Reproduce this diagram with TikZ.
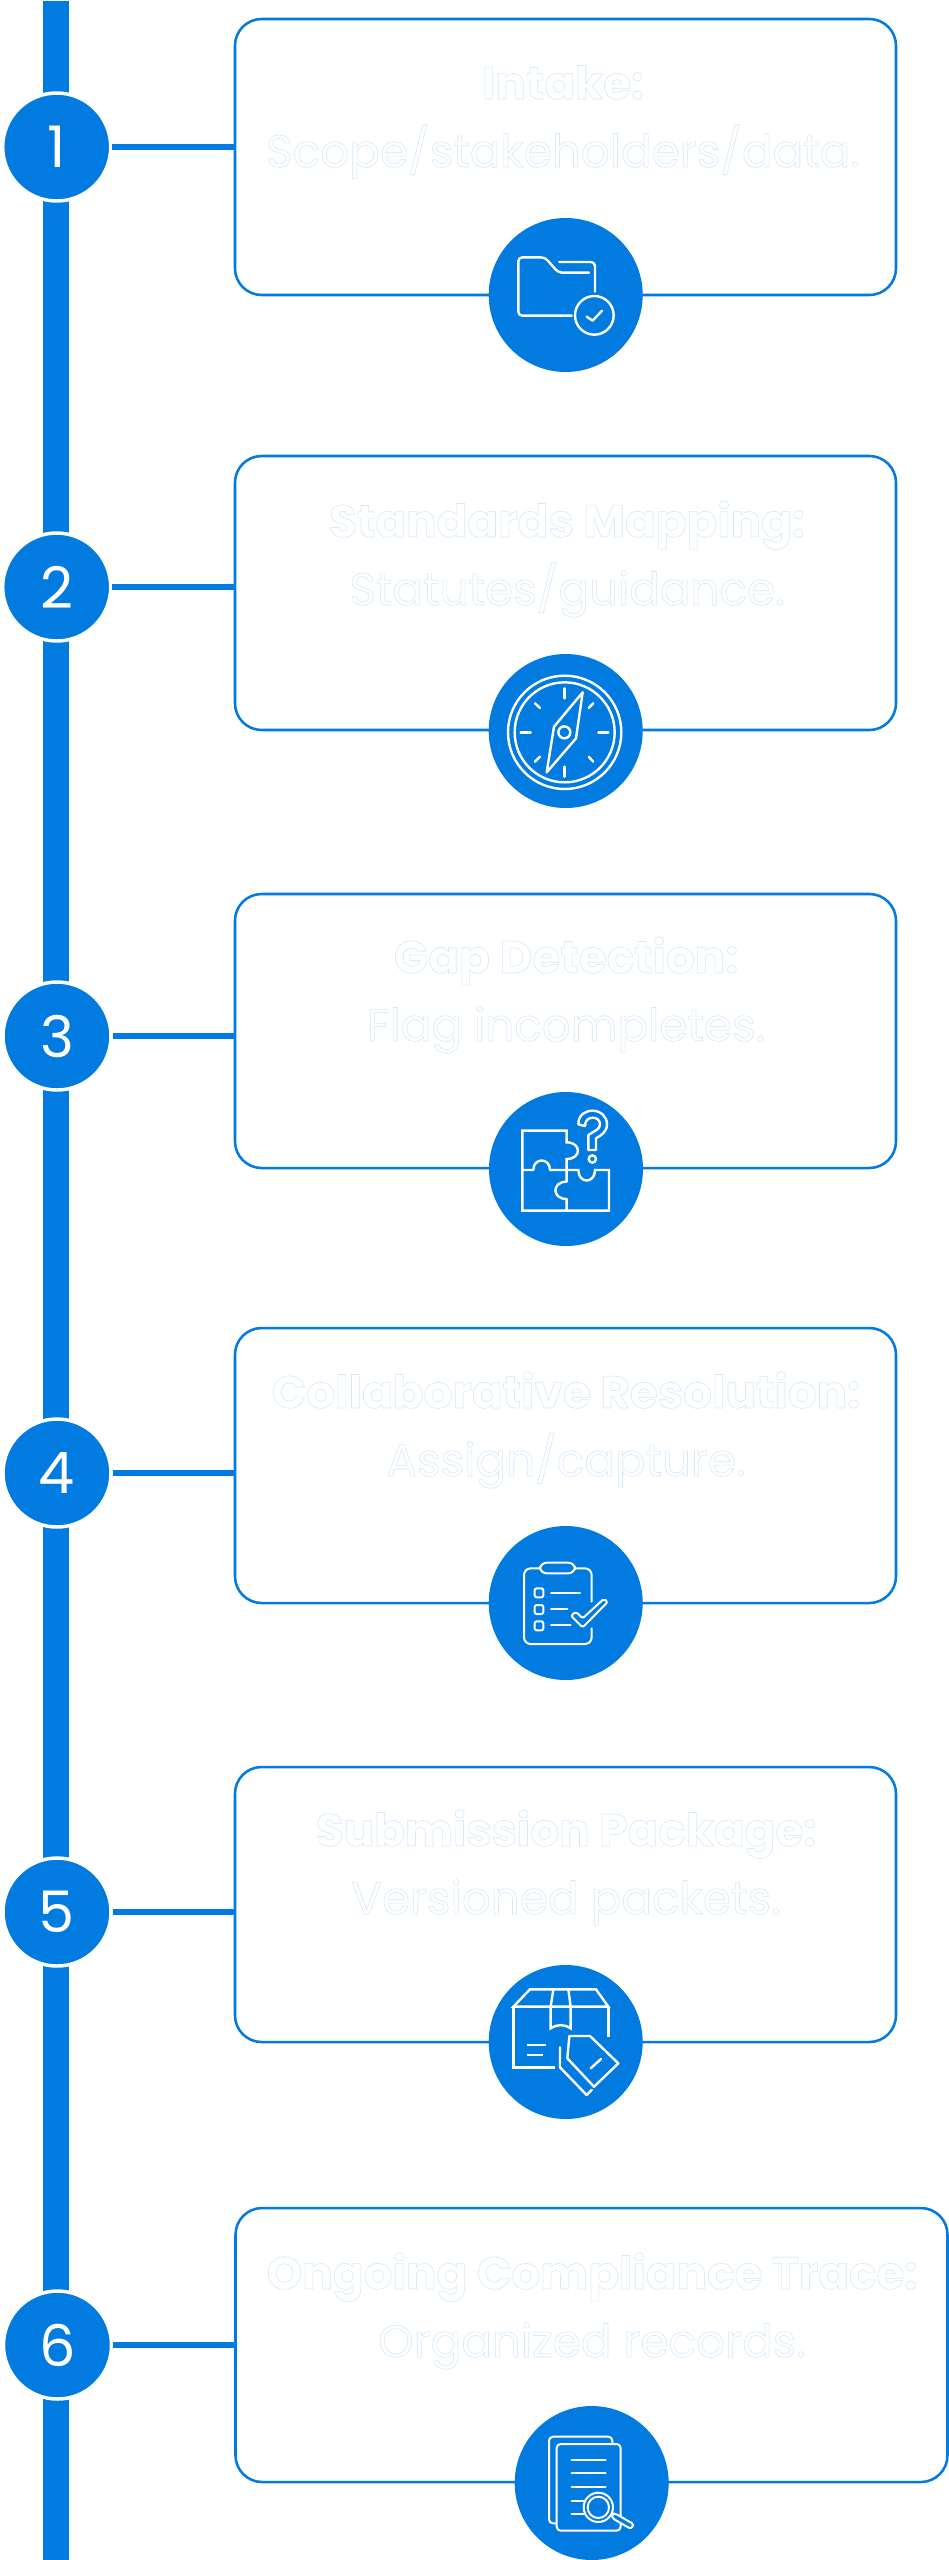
\documentclass[tikz,border=0pt]{standalone}
\usepackage{fontspec}
\setmainfont{Poppins}
\definecolor{brand}{HTML}{027BE0}
\tikzset{
  px/.style={x=0.75pt,y=-0.75pt},
  rail/.style={draw=brand,line width=19.3pt},
  spur/.style={draw=brand,line width=4.5pt},
  numdot/.style={circle,fill=brand,draw=white,line width=2.6pt,minimum size=81pt,inner sep=0pt,text=white,font=\fontsize{43}{43}\selectfont},
  card/.style={rectangle,draw=brand,line width=1.9pt,rounded corners=20pt,fill=white,inner sep=0pt},
  cardtext/.style={text=white,align=center,inner sep=0pt,font=\fontsize{34}{51}\selectfont},
  icondot/.style={circle,fill=brand,minimum size=115.5pt,inner sep=0pt},
  ico/.style={draw=white,line width=1.8pt,line cap=round,line join=round},
  icothin/.style={draw=white,line width=1.5pt,line cap=round,line join=round},
}
\newcommand{\cardtxt}[2]{\special{pdf:code 2 Tr 0.45 w 0.83 0.91 0.98 RG 1 1 1 rg}\strut\textbf{#1}\\\strut #2\special{pdf:code 0 Tr}}
\begin{document}
\begin{tikzpicture}[px]
\useasboundingbox (0,0) rectangle (949,2560);
\fill[white] (0,0) rectangle (949,2560);
\coordinate (railtop) at (56.2,1);
\coordinate (railbot) at (56.2,2560);
\draw[rail] (railtop) -- (railbot);
% cards
\node[card,minimum width=495.75pt,minimum height=207pt] (b1) at (565.5,157) {};
\node[card,minimum width=495.75pt,minimum height=205.5pt] (b2) at (565.5,593) {};
\node[card,minimum width=495.75pt,minimum height=205.5pt] (b3) at (565.5,1031) {};
\node[card,minimum width=495.75pt,minimum height=206.25pt] (b4) at (565.5,1465.5) {};
\node[card,minimum width=495.75pt,minimum height=206.25pt] (b5) at (565.5,1904.5) {};
\node[card,minimum width=534pt,minimum height=205.5pt] (b6) at (591.5,2345) {};
% number circles
\node[numdot] (n1) at (56.7,147) {1};
\node[numdot] (n2) at (56.7,587) {2};
\node[numdot] (n3) at (57,1036) {3};
\node[numdot] (n4) at (57,1473) {4};
\node[numdot] (n5) at (57,1912) {5};
\node[numdot] (n6) at (57.5,2345) {6};
% connectors
\foreach \k in {1,...,6}{\draw[spur] (n\k.east) -- (n\k.east -| b\k.west);}
% texts
\node[cardtext] (t1) at (563,119.4) {\cardtxt{Intake:}{Scope/stakeholders/data.}};
\node[cardtext] (t2) at (567,557.4) {\cardtxt{Standards Mapping:}{Statutes/guidance.}};
\node[cardtext] (t3) at (566,993.4) {\cardtxt{Gap Detection:}{Flag incompletes.}};
\node[cardtext] (t4) at (566,1428.4) {\cardtxt{Collaborative Resolution:}{Assign/capture.}};
\node[cardtext] (t5) at (566,1866.4) {\cardtxt{Submission Package:}{Versioned packets.}};
\node[cardtext] (t6) at (592,2309.4) {\cardtxt{Ongoing Compliance Trace:}{Organized records.}};
% icon circles
\node[icondot] (i1) at (565.7,295) {};
\node[icondot] (i2) at (565.7,731) {};
\node[icondot] (i3) at (566,1169) {};
\node[icondot] (i4) at (565.7,1603) {};
\node[icondot] (i5) at (565.7,2042) {};
\node[icondot] (i6) at (591.7,2483) {};
% icon 1: folder
\begin{scope}[shift={(470,200)},scale=1/3]
\draw[ico,rounded corners=3pt] (305,347) -- (145,347) -- (145,172) -- (225,172) -- (265,218) -- (357,218);
\draw[ico,rounded corners=3pt] (268,186) -- (375,186) -- (375,275);
\draw[ico] (373,346) circle (58);
\draw[ico] (350,350) -- (368,362) -- (396,332);
\end{scope}
% icon 2: compass
\begin{scope}[shift={(470,640)},scale=1/3]
\draw[ico] (284,277) circle (170);
\draw[ico] (284,277) circle (150);
\foreach \a/\b/\c/\d in {283/145/283/175,283/380/283/410,152/277/182/277,385/277/415/277,195/190/210/204,370/190/356/204,195/365/210/350,370/365/356/350}{\draw[ico] (\a,\b) -- (\c,\d);}
\draw[ico] (338,157) -- (252,260) -- (230,397) -- (318,295) -- cycle;
\draw[ico] (283,277) circle (18);
\end{scope}
% icon 3: puzzle
\begin{scope}[shift={(470,1080)},scale=1/3]
\draw[ico,line join=miter] (157,152) -- (290,152) -- (290,187) .. controls (335,187) and (335,237) .. (290,237) -- (290,270) -- (325,270) .. controls (325,312) and (375,312) .. (375,270) -- (417,270) -- (417,392) -- (157,392) -- cycle;
\draw[ico] (157,270) -- (190,270) .. controls (190,232) and (240,232) .. (240,270) -- (290,270) -- (290,305) .. controls (245,305) and (245,357) .. (290,357) -- (290,392);
\draw[ico] (325,133) .. controls (325,105) and (345,92) .. (368,92) .. controls (392,92) and (411,110) .. (411,133) .. controls (411,155) and (395,165) .. (378,175) -- (378,210) -- (355,210) -- (355,165) .. controls (375,152) and (390,148) .. (390,133) .. controls (390,120) and (380,113) .. (368,113) .. controls (355,113) and (345,122) .. (345,138) -- cycle;
\draw[ico] (367,237) circle (11);
\end{scope}
% icon 4: checklist
\begin{scope}[shift={(470,1520)},scale=1/3]
\draw[icothin,rounded corners=5pt] (210,145) -- (162,145) -- (162,372) -- (365,372) -- (365,325);
\draw[icothin,rounded corners=5pt] (315,145) -- (365,145) -- (365,245);
\draw[icothin,rounded corners=5pt] (210,128) rectangle (315,160);
\foreach \y in {205,255,304}{\draw[icothin,rounded corners=1.5pt] (194,\y) rectangle (220,\y+27);}
\draw[icothin] (243,218) -- (330,218);
\draw[icothin] (243,267) -- (292,267);
\draw[icothin] (243,316) -- (302,316);
\draw[icothin,rounded corners=1.5pt] (303,287) -- (318,275) -- (338,295) -- (402,236) -- (413,246) -- (338,322) -- cycle;
\end{scope}
% icon 5: package and tag
\begin{scope}[shift={(470,1960)},scale=1/3]
\draw[ico,line cap=butt,line join=miter] (130,140) -- (180,88) -- (378,88) -- (415,140) -- cycle;
\draw[ico,line cap=butt,line join=miter] (130,140) -- (130,322) -- (255,322);
\draw[ico,line cap=butt] (415,140) -- (415,232);
\draw[ico,line cap=butt,line join=miter] (250,88) -- (242,140) -- (242,205) .. controls (262,192) and (282,192) .. (302,205) -- (302,140) -- (295,88);
\draw[ico,line cap=butt] (170,255) -- (228,255);
\draw[ico,line cap=butt] (170,285) -- (218,285);
\draw[ico] (298,228) -- (360,228) -- (445,310) -- (372,380) -- (292,295) -- cycle;
\draw[ico] (362,325) -- (393,297);
\draw[ico] (270,262) -- (270,322) -- (350,405) -- (365,390);
\end{scope}
% icon 6: documents and magnifier
\begin{scope}[shift={(500,2380)},scale=1/3]
\draw[icothin,rounded corners=3pt] (168,430) -- (147,430) -- (147,170) -- (337,170) -- (337,192);
\draw[icothin,rounded corners=3pt] (170,192) rectangle (362,452);
\foreach \y in {240,280,322}{\draw[icothin] (215,\y) -- (317,\y);}
\foreach \y in {362,403}{\draw[icothin] (215,\y) -- (255,\y);}
\draw[icothin,fill=brand,rounded corners=2pt] (336,402) -- (345,400) -- (402,433) -- (393,447) -- (336,414) -- cycle;
\draw[icothin,fill=brand] (295,382) circle (44);
\draw[icothin] (295,382) circle (32);
\end{scope}
\end{tikzpicture}
\end{document}
